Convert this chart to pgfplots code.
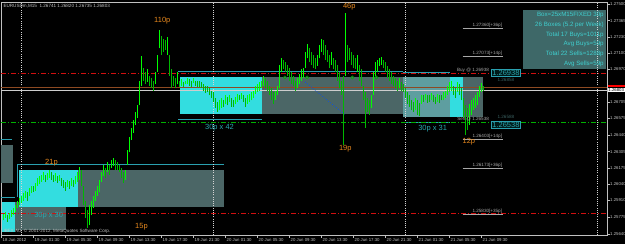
\documentclass[border=0pt]{standalone}
\usepackage{fontspec}
\setmainfont{Liberation Sans}
\usepackage{pgfplots}
\usepackage{pgfplotstable}
\pgfplotsset{compat=1.18}
\definecolor{cyanbox}{HTML}{33DDE0}
\definecolor{graybox}{HTML}{4B6666}
\definecolor{mutedbox}{HTML}{5E9EA0}
\definecolor{panelbg}{HTML}{3E6868}
\definecolor{paneltxt}{HTML}{3ED0D0}
\definecolor{tealtxt}{HTML}{2AA6AE}
\definecolor{orng}{HTML}{E8891E}
\definecolor{brightg}{HTML}{00FF00}
\definecolor{darkg}{HTML}{00B800}
\definecolor{axgray}{HTML}{C0C0C0}
\definecolor{brn}{HTML}{8E4A22}
\definecolor{redl}{HTML}{D01010}
\definecolor{greenl}{HTML}{00B000}
\definecolor{fibgray}{HTML}{A8A8A8}
\definecolor{tealline}{HTML}{2AA0B0}
\definecolor{ghost}{HTML}{3A6060}

% bars that closed higher (bright green): bar index, low, high
\pgfplotstableread{
i lo hi
1 1.2575 1.2580
2 1.2577 1.2582
4 1.2576 1.2581
5 1.2578 1.2583
6 1.2579 1.2585
7 1.2582 1.2587
8 1.2585 1.2591
9 1.2587 1.2593
10 1.2589 1.2595
11 1.2591 1.2597
12 1.2593 1.2599
14 1.2595 1.2601
15 1.2597 1.2603
17 1.2599 1.2605
18 1.2603 1.2609
19 1.2604 1.2611
20 1.2606 1.2612
21 1.2608 1.2614
23 1.2608 1.2613
24 1.2609 1.2616
27 1.2607 1.2613
29 1.2607 1.2612
33 1.2602 1.2608
35 1.2603 1.2609
37 1.2604 1.2611
38 1.2606 1.2614
39 1.2608 1.2618
44 1.2571 1.2587
45 1.2579 1.2591
46 1.2585 1.2595
47 1.2591 1.2599
48 1.2595 1.2603
49 1.2598 1.2608
50 1.2606 1.2614
51 1.2611 1.2620
53 1.2614 1.2622
55 1.2617 1.2624
56 1.2619 1.2625
62 1.2608 1.2616
63 1.2620 1.2632
64 1.2630 1.2642
65 1.2640 1.2650
66 1.2646 1.2656
67 1.2652 1.2663
68 1.2658 1.2668
69 1.2668 1.2688
70 1.2684 1.2708
73 1.2687 1.2697
77 1.2685 1.2695
78 1.2695 1.2709
79 1.2714 1.2729
83 1.2709 1.2723
88 1.2685 1.2695
90 1.2684 1.2689
92 1.2685 1.2688
93 1.2685 1.2690
96 1.2686 1.2690
109 1.2664 1.2672
110 1.2666 1.2674
112 1.2669 1.2676
114 1.2671 1.2676
117 1.2669 1.2675
118 1.2671 1.2677
120 1.2673 1.2678
123 1.2669 1.2676
124 1.2671 1.2677
125 1.2672 1.2679
126 1.2674 1.2680
127 1.2677 1.2684
128 1.2679 1.2685
129 1.2680 1.2687
130 1.2682 1.2688
131 1.2684 1.2692
137 1.2672 1.2680
138 1.2676 1.2684
139 1.2682 1.2701
140 1.2695 1.2706
148 1.2682 1.2690
149 1.2685 1.2693
150 1.2688 1.2697
151 1.2690 1.2698
152 1.2698 1.2711
153 1.2706 1.2718
158 1.2700 1.2709
159 1.2706 1.2717
160 1.2711 1.2722
165 1.2701 1.2711
172 1.2692 1.2743
178 1.2695 1.2709
185 1.2666 1.2676
186 1.2676 1.2695
187 1.2692 1.2703
188 1.2695 1.2705
189 1.2700 1.2706
190 1.2701 1.2707
199 1.2682 1.2690
207 1.2664 1.2674
210 1.2669 1.2676
212 1.2672 1.2677
215 1.2672 1.2678
218 1.2671 1.2677
221 1.2672 1.2679
222 1.2674 1.2680
223 1.2676 1.2684
224 1.2679 1.2687
225 1.2680 1.2688
228 1.2679 1.2687
234 1.2652 1.2669
235 1.2660 1.2672
236 1.2664 1.2674
237 1.2666 1.2676
238 1.2668 1.2679
239 1.2675 1.2684
240 1.2679 1.2686
}\upbars

% bars that closed lower (darker green)
\pgfplotstableread{
i lo hi
3 1.2574 1.2579
13 1.2591 1.2598
16 1.2598 1.2603
22 1.2606 1.2612
25 1.2608 1.2614
26 1.2606 1.2612
28 1.2605 1.2611
30 1.2603 1.2609
31 1.2601 1.2608
32 1.2599 1.2606
34 1.2600 1.2607
36 1.2602 1.2608
40 1.2603 1.2616
41 1.2587 1.2603
42 1.2577 1.2591
43 1.2569 1.2583
52 1.2609 1.2617
54 1.2612 1.2620
57 1.2616 1.2624
58 1.2616 1.2622
59 1.2614 1.2620
60 1.2609 1.2617
61 1.2605 1.2614
71 1.2688 1.2698
72 1.2685 1.2695
74 1.2684 1.2692
75 1.2682 1.2690
76 1.2680 1.2688
80 1.2709 1.2724
81 1.2711 1.2722
82 1.2713 1.2721
84 1.2692 1.2709
85 1.2682 1.2697
86 1.2684 1.2692
87 1.2682 1.2690
89 1.2683 1.2688
91 1.2683 1.2687
94 1.2684 1.2689
95 1.2683 1.2688
97 1.2684 1.2688
98 1.2683 1.2688
99 1.2683 1.2688
100 1.2682 1.2687
101 1.2680 1.2685
102 1.2678 1.2684
103 1.2679 1.2684
104 1.2676 1.2682
105 1.2674 1.2680
106 1.2671 1.2679
107 1.2666 1.2674
108 1.2663 1.2671
111 1.2667 1.2672
113 1.2668 1.2675
115 1.2667 1.2674
116 1.2667 1.2672
119 1.2672 1.2676
121 1.2671 1.2676
122 1.2667 1.2674
132 1.2682 1.2690
133 1.2680 1.2688
134 1.2676 1.2684
135 1.2672 1.2682
136 1.2669 1.2679
141 1.2697 1.2705
142 1.2695 1.2703
143 1.2692 1.2701
144 1.2688 1.2698
145 1.2685 1.2695
146 1.2684 1.2692
147 1.2680 1.2688
154 1.2703 1.2714
155 1.2701 1.2711
156 1.2698 1.2709
157 1.2697 1.2706
161 1.2709 1.2721
162 1.2705 1.2717
163 1.2703 1.2713
164 1.2698 1.2709
166 1.2697 1.2706
167 1.2695 1.2705
168 1.2688 1.2701
169 1.2682 1.2695
170 1.2676 1.2688
171 1.2636 1.2692
173 1.2703 1.2717
174 1.2705 1.2714
175 1.2701 1.2711
176 1.2698 1.2709
177 1.2697 1.2706
179 1.2688 1.2701
180 1.2684 1.2697
181 1.2672 1.2684
182 1.2650 1.2679
183 1.2663 1.2674
184 1.2660 1.2672
191 1.2698 1.2705
192 1.2695 1.2703
193 1.2690 1.2700
194 1.2688 1.2697
195 1.2685 1.2695
196 1.2684 1.2692
197 1.2682 1.2690
198 1.2680 1.2688
200 1.2680 1.2687
201 1.2679 1.2685
202 1.2674 1.2682
203 1.2669 1.2679
204 1.2667 1.2676
205 1.2664 1.2672
206 1.2663 1.2671
208 1.2660 1.2672
209 1.2659 1.2670
211 1.2671 1.2676
213 1.2670 1.2676
214 1.2671 1.2676
216 1.2671 1.2676
217 1.2669 1.2675
219 1.2670 1.2676
220 1.2672 1.2676
226 1.2676 1.2684
227 1.2674 1.2682
229 1.2676 1.2685
230 1.2672 1.2682
231 1.2658 1.2674
232 1.2644 1.2668
233 1.2648 1.2666
241 1.2680 1.2684
}\downbars

% small arrow markers sitting near the buy level
\pgfplotstableread{
i p
141.7 1.26905
152.8 1.26905
175.4 1.26905
187.4 1.26905
}\arrowmarks

\newcommand{\tk}{\fontsize{4.3}{5}\selectfont}
\newcommand{\sm}{\fontsize{4.6}{5.5}\selectfont}
\newcommand{\pl}{\fontsize{6.2}{7}\selectfont}
\newcommand{\lb}{\fontsize{7.5}{8.5}\selectfont}

\begin{document}
\begin{tikzpicture}
\fill[black] (0,0) rectangle (625pt,244pt);
\useasboundingbox (0,0) rectangle (625pt,244pt);
\begin{axis}[
  at={(1pt,9pt)}, anchor=south west,
  scale only axis, width=606pt, height=233pt,
  xmin=-0.25, xmax=302.75, ymin=1.25631, ymax=1.27516,
  clip=false,
  axis line style={draw=axgray, line width=0.5pt},
  xtick={0,16,...,240},
  xticklabels={18 Jun 2012,19 Jun 01:30,19 Jun 05:30,19 Jun 09:30,19 Jun 13:30,19 Jun 17:30,19 Jun 21:30,20 Jun 01:30,20 Jun 05:30,20 Jun 09:30,20 Jun 13:30,20 Jun 17:30,20 Jun 21:30,21 Jun 01:30,21 Jun 05:30,21 Jun 09:30},
  ytick={1.25640,1.25775,1.25910,1.26040,1.26175,1.26305,1.26440,1.26575,1.26705,1.26970,1.27100,1.27230,1.27365,1.27500},
  yticklabels={1.25640,1.25775,1.25910,1.26040,1.26175,1.26305,1.26440,1.26575,1.26705,1.26970,1.27100,1.27230,1.27365,1.27500},
  xtick pos=left, ytick pos=right, yticklabel pos=right,
  tick align=outside, major tick length=2.5pt,
  tick style={draw=axgray, line width=0.4pt},
  xticklabel style={font=\tk, text=axgray, anchor=north west, inner sep=0.5pt, xshift=0.5pt},
  yticklabel style={font=\tk, text=axgray, anchor=west, inner sep=0.5pt},
  scaled y ticks=false,
]
% ---- boxes ----
\addplot[fill=graybox, draw=none, forget plot] coordinates {(-0.25,1.26051) (6,1.26051) (6,1.26359) (-0.25,1.26359)};
\addplot[fill=cyanbox, draw=none, forget plot] coordinates {(0.5,1.25655) (7,1.25655) (7,1.25898) (0.5,1.25898)};
\addplot[fill=graybox, draw=none, forget plot] coordinates {(7,1.25671) (32,1.25671) (32,1.25898) (7,1.25898)};
\addplot[tealline, line width=0.8pt, forget plot] coordinates {(-0.25,1.26407) (5.5,1.26407)};
\addplot[tealline, line width=0.8pt, forget plot] coordinates {(-0.25,1.25938) (7,1.25938)};
\addplot[fill=cyanbox, draw=none, forget plot] coordinates {(9,1.25857) (38.2,1.25857) (38.2,1.26157) (9,1.26157)};
\addplot[fill=graybox, draw=none, forget plot] coordinates {(38.2,1.25857) (111,1.25857) (111,1.26157) (38.2,1.26157)};
\addplot[tealline, line width=0.8pt, forget plot] coordinates {(8,1.25938) (8,1.26205) (111,1.26205)};
\addplot[fill=cyanbox, draw=none, forget plot] coordinates {(89,1.26610) (130,1.26610) (130,1.26909) (89,1.26909)};
\addplot[fill=graybox, draw=none, forget plot] coordinates {(130,1.26610) (200.5,1.26610) (200.5,1.26909) (130,1.26909)};
\addplot[tealline, line width=0.8pt, forget plot] coordinates {(88.4,1.26958) (200.5,1.26958)};
\addplot[tealline, line width=0.8pt, forget plot] coordinates {(88.4,1.26570) (130,1.26570)};
\addplot[fill=mutedbox, draw=none, forget plot] coordinates {(200.5,1.26585) (224,1.26585) (224,1.26909) (200.5,1.26909)};
\addplot[fill=cyanbox, draw=none, forget plot] coordinates {(224,1.26585) (230.7,1.26585) (230.7,1.26909) (224,1.26909)};
\addplot[fill=graybox, draw=none, forget plot] coordinates {(230.7,1.26585) (240.7,1.26585) (240.7,1.26909) (230.7,1.26909)};
\addplot[tealline, line width=0.8pt, forget plot] coordinates {(200.5,1.26949) (224,1.26949)};
\addplot[tealline, line width=0.8pt, forget plot] coordinates {(200.5,1.26545) (224,1.26545)};
% info panel
\addplot[fill=panelbg, draw=none, forget plot] coordinates {(260.8,1.26974) (302,1.26974) (302,1.27451) (260.8,1.27451)};
% ---- day separators ----
\addplot[axgray!70, line width=0.5pt, dash pattern=on 1pt off 1.2pt, forget plot] coordinates {(10,1.25631) (10,1.27516)};
\addplot[axgray!70, line width=0.5pt, dash pattern=on 1pt off 1.2pt, forget plot] coordinates {(106,1.25631) (106,1.27516)};
\addplot[axgray!70, line width=0.5pt, dash pattern=on 1pt off 1.2pt, forget plot] coordinates {(202,1.25631) (202,1.27516)};
\addplot[axgray!70, line width=0.5pt, dash pattern=on 1pt off 1.2pt, forget plot] coordinates {(298,1.25631) (298,1.27516)};
% ---- horizontal levels ----
\addplot[redl, line width=0.7pt, dash pattern=on 5pt off 2pt on 1pt off 2pt, forget plot] coordinates {(-0.25,1.26938) (302.75,1.26938)};
\addplot[greenl, line width=0.7pt, dash pattern=on 5pt off 2pt on 1pt off 2pt, forget plot] coordinates {(-0.25,1.26545) (302.75,1.26545)};
\addplot[redl, line width=0.7pt, dash pattern=on 5pt off 2pt on 1pt off 2pt, forget plot] coordinates {(-0.25,1.25805) (302.75,1.25805)};
\addplot[brn, line width=1.4pt, forget plot] coordinates {(-0.25,1.26824) (302.75,1.26824)};
\addplot[axgray!80, line width=0.5pt, forget plot] coordinates {(-0.25,1.26803) (302.75,1.26803)};
\addplot[blue!70!cyan, line width=0.5pt, dash pattern=on 1pt off 1.5pt, forget plot] coordinates {(151.8,1.26869) (171.9,1.26602)};
% fib lines
\addplot[fibgray, line width=0.4pt, forget plot] coordinates {(230.6,1.27302) (250.8,1.27302)};
\addplot[fibgray, line width=0.4pt, forget plot] coordinates {(230.6,1.27075) (250.8,1.27075)};
\addplot[fibgray, line width=0.4pt, forget plot] coordinates {(230.6,1.26405) (250.8,1.26405)};
\addplot[fibgray, line width=0.4pt, forget plot] coordinates {(230.6,1.26170) (250.8,1.26170)};
\addplot[fibgray, line width=0.4pt, forget plot] coordinates {(230.6,1.25801) (250.8,1.25801)};
% ---- price bars (low to high) ----
\addplot[darkg, line width=1.7pt, mark=none, forget plot,
  quiver={u=0, v=\thisrow{hi}-\thisrow{lo}}]
  table[x=i, y=lo] {\downbars};
\addplot[brightg, line width=1.7pt, mark=none, forget plot,
  quiver={u=0, v=\thisrow{hi}-\thisrow{lo}}]
  table[x=i, y=lo] {\upbars};
\addplot[only marks, mark=o, mark size=1.6pt, mark options={draw=greenl, line width=0.6pt}, forget plot] table[x=i, y=p] {\arrowmarks};
% ---- texts ----
\node[anchor=north west, inner sep=0.5pt, text=axgray, font=\sm] at (rel axis cs:0.003,0.995) {EURUSDm,M15\ \ 1.26741 1.26820 1.26735 1.26803};
\node[anchor=south west, inner sep=0.5pt, text=axgray, font=\sm] at (rel axis cs:0.003,0.005) {IBFX AU, © 2001-2012, MetaQuotes Software Corp.};
\node[anchor=east, inner sep=0pt, text=paneltxt, font=\pl] at (axis cs:301.2,1.27411) {Box=25xM15FIXED 30p};
\node[anchor=east, inner sep=0pt, text=paneltxt, font=\pl] at (axis cs:301.2,1.27330) {26 Boxes (5.2 per Week)};
\node[anchor=east, inner sep=0pt, text=paneltxt, font=\pl] at (axis cs:301.2,1.27249) {Total 17 Buys=1011p};
\node[anchor=east, inner sep=0pt, text=paneltxt, font=\pl] at (axis cs:301.2,1.27176) {Avg Buys=59p};
\node[anchor=east, inner sep=0pt, text=paneltxt, font=\pl] at (axis cs:301.2,1.27095) {Total 22 Sells=1288p};
\node[anchor=east, inner sep=0pt, text=paneltxt, font=\pl] at (axis cs:301.2,1.27014) {Avg Sells=59p};
\node[text=orng, font=\lb, inner sep=0pt] at (axis cs:80.4,1.27362) {110p};
\node[text=orng, font=\lb, inner sep=0pt] at (axis cs:173.9,1.27475) {46p};
\node[text=orng, font=\lb, inner sep=0pt] at (axis cs:171.9,1.26327) {19p};
\node[text=orng, font=\lb, inner sep=0pt] at (axis cs:233.7,1.26383) {12p};
\node[text=orng, font=\lb, inner sep=0pt] at (axis cs:25,1.26213) {21p};
\node[text=orng, font=\lb, inner sep=0pt] at (axis cs:70,1.25700) {15p};
\node[text=tealtxt, font=\lb, inner sep=0pt] at (axis cs:23.6,1.25785) {30p x 30};
\node[text=tealtxt, font=\lb, inner sep=0pt] at (axis cs:109,1.26500) {30p x 42};
\node[text=tealtxt, font=\lb, inner sep=0pt] at (axis cs:215.6,1.26490) {30p x 31};
\node[anchor=south west, text=fibgray, font=\sm, inner sep=0.4pt] at (axis cs:235.2,1.27302) {1.27360[+36p]};
\node[anchor=south west, text=fibgray, font=\sm, inner sep=0.4pt] at (axis cs:235.2,1.27075) {1.27073[+14p]};
\node[anchor=south west, text=fibgray, font=\sm, inner sep=0.4pt] at (axis cs:235.2,1.26405) {1.26403[+14p]};
\node[anchor=south west, text=fibgray, font=\sm, inner sep=0.4pt] at (axis cs:235.2,1.26170) {1.26173[+36p]};
\node[anchor=south west, text=fibgray, font=\sm, inner sep=0.4pt] at (axis cs:235.2,1.25801) {1.25830[+35p]};
\node[anchor=east, text=fibgray, font=\sm, inner sep=0pt] at (axis cs:243.8,1.26962) {Buy @ 1.26938};
\node[anchor=east, text=fibgray, font=\sm, inner sep=0pt] at (axis cs:243.8,1.26565) {Sell @ 1.26538};
\node[anchor=north, text=ghost, font=\sm, inner sep=0pt] at (axis cs:252.2,1.26900) {1.26858};
\node[anchor=south, text=ghost, font=\sm, inner sep=0pt] at (axis cs:252.2,1.26572) {1.26588};
\node[draw=tealline, fill=black!80!teal, text=tealtxt, font=\lb, inner sep=0.8pt, line width=0.5pt] at (axis cs:252.2,1.26946) {1.26938};
\node[draw=tealline, fill=black!80!teal, text=tealtxt, font=\lb, inner sep=0.8pt, line width=0.5pt] at (axis cs:252.2,1.26520) {1.26538};
% current price marker on the right axis
\node[anchor=south west, fill=red, inner sep=0pt, minimum width=17pt, minimum height=1.8pt] at ([xshift=0.5pt]axis cs:302.75,1.26828) {};
\node[anchor=west, fill=white, text=black, font=\tk, inner sep=0.6pt, minimum width=17pt] at ([xshift=0.5pt]axis cs:302.75,1.26803) {1.26803};
\end{axis}
\end{tikzpicture}
\end{document}
